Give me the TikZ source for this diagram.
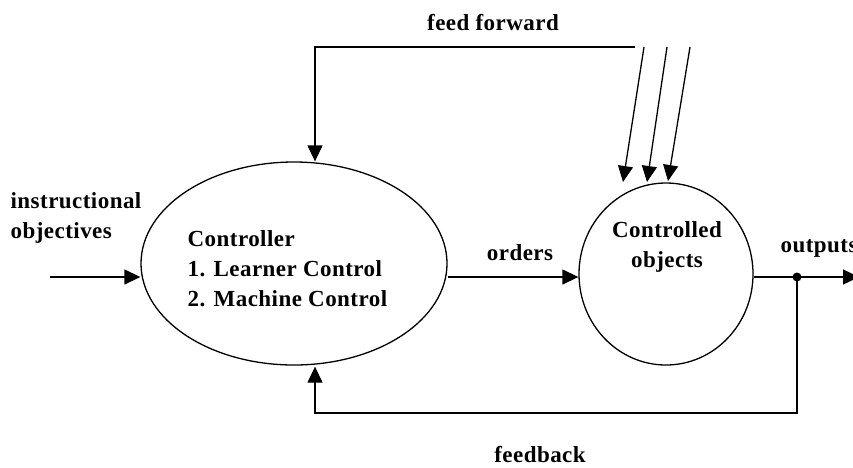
\documentclass[tikz,border=0pt]{standalone}
\usepackage{fontspec}
\setmainfont{Liberation Serif}[LetterSpace=2]
\usetikzlibrary{shapes.geometric,arrows.meta}
\begin{document}
\begin{tikzpicture}[x=1pt,y=-1pt,
  line width=1.3pt,
  arr/.style={-{Triangle[length=16pt,width=15pt]}},
  lbl/.style={font=\fontsize{23}{30}\selectfont\bfseries, inner sep=0pt},
  box/.style={draw, inner sep=0pt}]
\useasboundingbox (0,0) rectangle (853,467);

% main blocks
\node[box, ellipse, minimum width=306pt, minimum height=203pt] (ctrl) at (294,263.5) {};
\node[box, ellipse, minimum width=174pt, minimum height=182pt] (obj) at (666,274) {};

% texts
\node[lbl, align=left, anchor=north west] (ctrltext) at (187,230)
  {Controller\\1. Learner Control\\2. Machine Control};
\node[lbl, align=center] (objtext) at (667,247) {Controlled\\objects};
\node[lbl, align=left, anchor=west] (instr) at (10,218) {instructional\\objectives};
\node[lbl] (orders) at (520,253) {orders};
\node[lbl, anchor=west] (outputs) at (780,248) {outputs};
\node[lbl] (ffwd) at (493,23) {feed forward};
\node[lbl] (fback) at (540,455) {feedback};

% helper points
\coordinate (in) at (50,277);
\coordinate (ordy) at (0,277);
\coordinate (dot) at (797,277);
\coordinate (outend) at (859,277);
\coordinate (fb) at (315,413);
\coordinate (ff) at (635,47);
\coordinate (ffcorner) at (315,47);
\coordinate (s1) at (644,47);
\coordinate (s2) at (667,47);
\coordinate (s3) at (690,47);
\coordinate (e1) at (623,182);
\coordinate (e2) at (647,182);
\coordinate (e3) at (668,181);

% connectors
\draw[arr] (in) -- (in -| ctrl.west);
\draw[arr] (ordy -| ctrl.east) -- (ordy -| obj.west);
\draw (ordy -| obj.east) -- (dot);
\draw[arr] (dot) -- (outend);
\fill (dot) circle (4.5pt);
\draw[arr, shorten >=1pt] (dot) |- (fb) -- (fb |- ctrl.south);
\draw[arr] (ff) -- (ffcorner) -- (ffcorner |- ctrl.north);
\draw[arr] (s1) -- (e1);
\draw[arr] (s2) -- (e2);
\draw[arr] (s3) -- (e3);
\end{tikzpicture}
\end{document}
